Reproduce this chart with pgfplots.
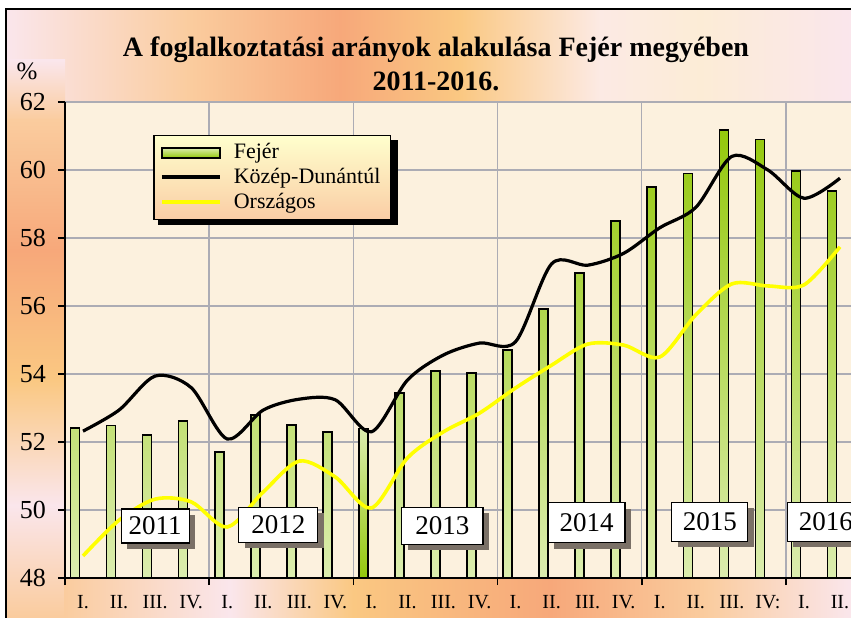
\documentclass[border=0pt]{standalone}
\usepackage{fontspec}
\setmainfont{Liberation Serif}
\usepackage{pgfplots}
\pgfplotsset{compat=1.18}
\usetikzlibrary{shadows}

\definecolor{bgpink}{RGB}{250,230,236}
\definecolor{bglor}{RGB}{250,204,158}
\definecolor{bgsal}{RGB}{247,168,122}
\definecolor{bgyel}{RGB}{250,200,130}
\definecolor{bgpale}{RGB}{252,234,228}
\definecolor{bgpeach}{RGB}{252,236,214}
\definecolor{plotbg}{RGB}{252,241,222}
\definecolor{gridc}{RGB}{172,172,180}
\definecolor{bardark}{RGB}{148,200,12}
\definecolor{barlight}{RGB}{220,237,175}
\definecolor{lineyel}{RGB}{255,255,0}
\definecolor{legtop}{RGB}{255,255,205}
\definecolor{legbot}{RGB}{250,205,165}
\definecolor{shad}{RGB}{122,112,102}

\begin{document}
\begin{tikzpicture}
\useasboundingbox (0pt,0pt) rectangle (425.5pt,308.5pt);
\clip (0pt,0pt) rectangle (425.5pt,308.5pt);
% background, drawn in pixel units of the 851x617 picture
\begin{scope}[shift={(0pt,308.5pt)}, x=0.5pt, y=-0.5pt]
\fill[white] (0,0) rectangle (851,617);
\shade[left color=bgpink, right color=bglor] (6,9) rectangle (190.5,578);
\shade[left color=bglor, right color=bgsal] (190,9) rectangle (340.5,578);
\shade[left color=bgsal, right color=bgyel] (340,9) rectangle (460.5,578);
\shade[left color=bgyel, right color=bgpale] (460,9) rectangle (600.5,578);
\shade[left color=bgpale, right color=bgpeach] (600,9) rectangle (700.5,578);
\shade[left color=bgpeach, right color=bgpink] (700,9) rectangle (852,578);
% left strip
\shade[top color=bgpink, bottom color=bglor] (6,60) rectangle (65,120.5);
\shade[top color=bglor, bottom color=bgsal] (6,120) rectangle (65,250.5);
\shade[top color=bgsal, bottom color=bgyel] (6,250) rectangle (65,380.5);
\shade[top color=bgyel, bottom color=bgpink] (6,380) rectangle (65,505.5);
\shade[top color=bgpink, bottom color=bglor] (6,505) rectangle (65,617);
% bottom strip
\shade[left color=bglor, right color=bgpink] (64,578) rectangle (230.5,617);
\shade[left color=bgpink, right color=bgyel] (230,578) rectangle (353.5,617);
\shade[left color=bgyel, right color=bgsal] (353,578) rectangle (550.5,617);
\shade[left color=bgsal, right color=bglor] (550,578) rectangle (705.5,617);
\shade[left color=bglor, right color=bgpink] (705,578) rectangle (852,617);
\draw[black, line width=1.2pt] (6,630) -- (6,9) -- (860,9);
\node[font=\fontsize{14}{17}\selectfont\bfseries, align=center] at (436,64)
  {A foglalkoztatási arányok alakulása Fejér megyében\\2011-2016.};
\node[font=\fontsize{12.5}{12.5}\selectfont] at (27,71) {\%};
\end{scope}

\begin{axis}[
    at={(32.5pt,19.5pt)}, anchor=south west,
    scale only axis, width=396.5pt, height=238pt,
    xmin=-0.5, xmax=21.5, ymin=0, ymax=14,
    y filter/.expression={y-48},
    axis x line*=bottom, axis y line*=left,
    axis line style={black, line width=0.8pt},
    tick align=outside, major tick length=3.5pt,
    tick style={black, line width=0.8pt},
    ytick={0,2,4,6,8,10,12,14},
    yticklabels={\textrm{48},\textrm{50},\textrm{52},\textrm{54},\textrm{56},\textrm{58},\textrm{60},\textrm{62}},
    xtick={-0.5,3.5,7.5,11.5,15.5,19.5},
    xticklabels={},
    extra x ticks={0,1,2,3,4,5,6,7,8,9,10,11,12,13,14,15,16,17,18,19,20,21},
    extra x tick labels={\textrm{I.},\textrm{II.},\textrm{III.},\textrm{IV.},\textrm{I.},\textrm{II.},\textrm{III.},\textrm{IV.},\textrm{I.},\textrm{II.},\textrm{III.},\textrm{IV.},\textrm{I.},\textrm{II.},\textrm{III.},\textrm{IV.},\textrm{I.},\textrm{II.},\textrm{III.},\textrm{IV:},\textrm{I.},\textrm{II.}},
    extra x tick style={grid=none, major tick length=0pt},
    xmajorgrids, ymajorgrids,
    grid style={gridc, line width=0.75pt},
    axis background/.style={fill=plotbg},
    yticklabel style={font=\fontsize{13}{13}\selectfont, xshift=-2.5pt},
    xticklabel style={font=\fontsize{10}{10}\selectfont, yshift=-5pt},
    legend style={at={(0.111,0.931)}, anchor=north west, draw=black,
        line width=0.8pt, top color=legtop, bottom color=legbot,
        font=\fontsize{11}{11}\selectfont, inner xsep=3pt, inner ysep=2pt,
        row sep=-0.8pt, column sep=4pt},
    legend cell align={left},
]
% Fejér
\addplot[ybar, bar width=4.5pt, bar shift=-4pt, draw=black, line width=0.8pt,
    top color=bardark, bottom color=barlight,
    legend image code/.code={\draw[black, line width=0.8pt, top color=barlight, bottom color=bardark] (0pt,-2.5pt) rectangle (29pt,2.5pt);}]
coordinates {
(0,52.41) (1,52.48) (2,52.20) (3,52.62) (4,51.70) (5,52.80) (6,52.50) (7,52.30)
(9,53.44) (10,54.09) (11,54.03) (12,54.70) (13,55.91) (14,56.97) (15,58.50)
(16,59.50) (17,59.90) (18,61.18) (19,60.90) (20,59.97) (21,59.38)
};
\addlegendentry{Fejér}
\addplot[ybar, bar width=4.5pt, bar shift=-4pt, draw=black, line width=0.8pt,
    top color=barlight, bottom color=bardark, forget plot]
coordinates {(8,52.40)};
% Közép-Dunántúl
\addplot[black, line width=1.6pt, smooth, tension=0.5,
    legend image code/.code={\draw[black, line width=2pt] (0pt,0pt) -- (29pt,0pt);}]
coordinates {
(0,52.32) (1,52.94) (2,53.94) (3,53.60) (4,52.09) (5,52.94) (6,53.26) (7,53.24)
(8,52.30) (9,53.82) (10,54.56) (11,54.91) (12,54.95) (13,57.24) (14,57.20) (15,57.55)
(16,58.30) (17,58.90) (18,60.40) (19,60.00) (20,59.17) (21,59.76)
};
\addlegendentry{Közép-Dunántúl}
% Országos
\addplot[lineyel, line width=1.8pt, smooth, tension=0.5,
    legend image code/.code={\draw[lineyel, line width=1.8pt] (0pt,0pt) -- (29pt,0pt);}]
coordinates {
(0,48.65) (1,49.70) (2,50.32) (3,50.24) (4,49.50) (5,50.53) (6,51.44) (7,50.97)
(8,50.06) (9,51.53) (10,52.30) (11,52.85) (12,53.59) (13,54.26) (14,54.88) (15,54.85)
(16,54.50) (17,55.74) (18,56.65) (19,56.59) (20,56.62) (21,57.74)
};
\addlegendentry{Országos}
% shadow behind the legend box
\fill[black] (axis description cs:0.1173,0.9202) rectangle (axis description cs:0.4199,0.7416);
% year boxes
\tikzset{yearbox/.style={draw=black, line width=0.6pt, fill=white, inner sep=0pt,
    drop shadow={shadow xshift=3pt, shadow yshift=-3pt, fill=shad, opacity=1},
    font=\fontsize{13.5}{13.5}\selectfont}}
\node[yearbox, minimum width=34pt, minimum height=17pt] at (axis cs:2,1.53) {2011};
\node[yearbox, minimum width=39.5pt, minimum height=17.5pt] at (axis cs:5.42,1.57) {2012};
\node[yearbox, minimum width=40.5pt, minimum height=18.5pt] at (axis cs:9.97,1.54) {2013};
\node[yearbox, minimum width=38.5pt, minimum height=20pt] at (axis cs:13.97,1.63) {2014};
\node[yearbox, minimum width=38pt, minimum height=19.5pt] at (axis cs:17.39,1.65) {2015};
\node[yearbox, minimum width=38.5pt, minimum height=19.5pt] at (axis cs:20.61,1.65) {2016};
\end{axis}
\end{tikzpicture}
\end{document}
